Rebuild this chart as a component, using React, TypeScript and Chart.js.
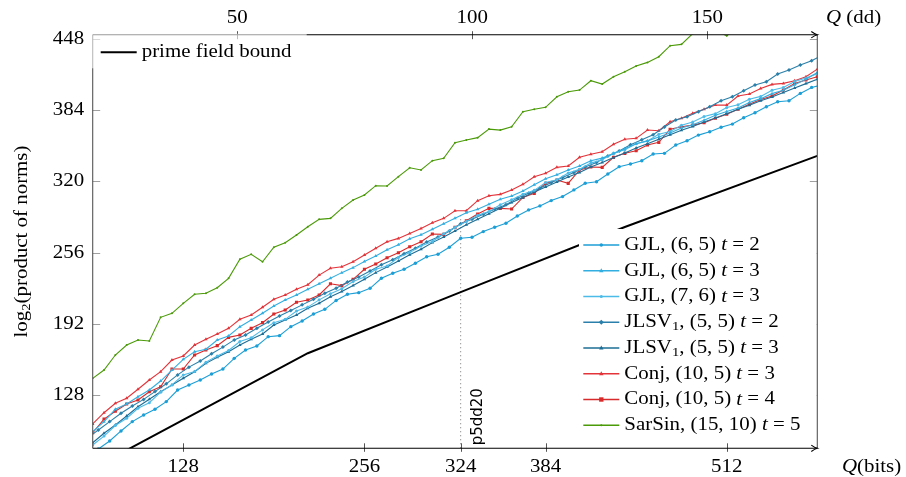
import React, { useEffect, useRef } from "react";
import { Chart, registerables } from "chart.js";
Chart.register(...registerables);

// ---------- data ----------
// x grid (bits) used by most series
const gridA = [64, 72, 80, 88, 96, 104, 112, 120, 128, 136, 144, 152, 160, 168, 176, 184, 192, 200, 208, 216, 224, 232, 240, 248, 256, 264, 272, 280, 288, 296, 304, 312, 320, 328, 336, 344, 352, 360, 368, 376, 384, 392, 400, 408, 416, 424, 432, 440, 448, 456, 464, 472, 480, 488, 496, 504, 512, 520, 528, 536, 544, 552, 560, 568, 576];
// shifted x grid (bits) used by some series
const gridB = [60, 68, 76, 84, 92, 100, 108, 116, 124, 132, 140, 148, 156, 164, 172, 180, 188, 196, 204, 212, 220, 228, 236, 244, 252, 260, 268, 276, 284, 292, 300, 308, 316, 324, 332, 340, 348, 356, 364, 372, 380, 388, 396, 404, 412, 420, 428, 436, 444, 452, 460, 468, 476, 484, 492, 500, 508, 516, 524, 532, 540, 548, 556, 564, 572, 580];

const gjl65t2Vals = [73, 79.4, 86.6, 95.6, 104, 110, 115.1, 122, 132.4, 136.9,
  141.4, 146.8, 151.3, 160.9, 168.4, 172, 180.4, 181.3, 189.4, 194.5,
  200.8, 205, 213, 218.5, 220, 223.9, 232.9, 237.4, 241, 246.4,
  252.3, 254.5, 260.8, 268.9, 269.8, 274.9, 278.8, 282.4, 289, 294.4,
  298, 302.8, 306.4, 312.4, 318.4, 319.8, 326.7, 333.3, 335.7, 338.6,
  344.7, 345.3, 352.8, 356.6, 361.7, 364.7, 368.7, 371.6, 377.3, 381.8,
  387.2, 391.7, 392.6, 399.2, 404.6, 407];
const gjl65t3Vals = [94.9, 103.9, 115.1, 119.8, 126.4, 132.4, 140.5, 150.4, 160, 166.9,
  169.1, 177.4, 181, 189.4, 195.4, 201.4, 208, 213.4, 217.9, 223,
  228, 233, 238, 242.5, 248, 253, 258.5, 263, 268.5, 272,
  277, 282, 287, 291.9, 295, 299.5, 304, 307, 311.5, 317,
  322.5, 326, 330.3, 334, 338.6, 341, 345, 349.5, 354, 356.5,
  360, 363.5, 368, 371, 375, 379.5, 383, 386, 391, 394.5,
  399, 402, 407, 412, 418];
const gjl76t3Vals = [83, 91, 100.5, 107, 116, 121, 130.5, 137, 146, 149,
  157.5, 163, 168, 176, 179.5, 186.5, 193, 196, 203.5, 207,
  213.5, 219, 223.5, 230, 234, 241, 244, 251.5, 256, 262,
  266, 273, 278.5, 284, 289.5, 293, 299, 303.5, 308.5, 312,
  319, 321.5, 327.5, 331, 336.5, 339.5, 345.5, 348.5, 354, 356.5,
  362.5, 365, 370.5, 373.5, 378.5, 381, 386.5, 389, 394, 396.5,
  402, 404.5, 410, 413, 417];
const jlsv55t2Vals = [89, 96.5, 104, 111.5, 118, 124, 131, 138, 146, 153,
  158.5, 165, 171, 177.5, 182, 188, 193.5, 199, 204, 209,
  214, 219.5, 224, 229.5, 234, 239.5, 245, 249.5, 255, 260,
  265.5, 270, 275.5, 282, 286, 290.5, 295, 299, 305, 309.5,
  314, 319, 323.5, 328, 333, 337, 343, 347.5, 353, 357.5,
  362, 369, 375.2, 378.2, 382.7, 387.2, 392.6, 396.2, 401.6, 406.7,
  409.7, 416.6, 420.2, 424.7, 428.6, 434];
const jlsv55t3Vals = [85, 93.5, 101, 109.1, 117.4, 124.1, 130.9, 136.9, 143, 148.9,
  156.4, 161.8, 166.9, 172.9, 178, 182.8, 190.9, 195.4, 199.9, 205.9,
  210.4, 216.3, 221, 226.5, 232, 238, 243, 248.5, 254, 259,
  265, 270, 275.5, 281, 286, 291, 296, 301, 305.5, 310.5,
  315, 319.5, 324, 328, 333, 337, 341.5, 345.5, 350, 354,
  358, 362, 366, 369.5, 373.5, 377, 381, 385, 388.5, 392.5,
  396, 400, 404, 408, 412];
const conjT3Vals = [101.9, 112, 120.5, 125, 133.1, 141.4, 148.9, 159.4, 163, 172.9,
  178, 182.8, 187.9, 196, 199.9, 206.8, 214, 217.9, 223, 227.1,
  235.8, 241.9, 243.3, 247.8, 253.8, 259.9, 265.8, 268.8, 273.3, 277.8,
  282.9, 286.8, 293.7, 293.7, 302.7, 307.2, 308.4, 312.3, 317.4, 324.3,
  327.3, 332.7, 333.9, 341.7, 344.5, 346.7, 353.4, 357.9, 358.8, 366.3,
  365.6, 373.7, 376.8, 381.3, 384.9, 388.7, 388.7, 396.8, 398.6, 403.7,
  407.3, 408.2, 410.6, 414.2, 421];
const conjT4Vals = [94, 106.3, 113.3, 119.8, 123.4, 130.9, 135.4, 151.3, 151.3, 163.9,
  168.4, 172.3, 179.8, 181.9, 187.9, 193, 200.8, 204.4, 211.3, 213.4,
  217.9, 228, 226.3, 232, 241, 245.8, 251.4, 255.9, 261.3, 265.8,
  272.7, 272.4, 278.7, 284.7, 290.7, 295.8, 295.8, 295.2, 305.7, 309.3,
  318.3, 321.3, 318.3, 330.3, 333, 332.7, 341.7, 345.3, 347.6, 352.8,
  355.2, 367, 369.2, 370.7, 372.8, 376.8, 380.4, 384.9, 389.4, 393.8,
  396.8, 402.2, 408.2, 411.2, 414.2];
const sarSinVals = [142.9, 150.4, 163.9, 172.9, 177.4, 176.5, 197.8, 201.4, 210.4, 218.5,
  219.4, 224.4, 232.9, 250, 254.5, 247.8, 260.8, 264.9, 271.8, 279.3,
  285.9, 286.8, 295.8, 303.3, 307.8, 316.2, 315.9, 324.3, 332.3, 330.3,
  338.7, 340.8, 354.8, 357.3, 359.4, 367.1, 366.2, 369.2, 382.7, 384.9,
  386.7, 396.2, 400.7, 402.2, 410.6, 407.6, 414.2, 418.7, 423.8, 427.1,
  432.2, 442.1, 443.3, 453, 457, 456, 451, 459, 463, 466,
  470, 474, 477, 481, 485];
const boundX = [64, 216, 324, 440, 576];
const boundY = [62, 165.5, 220.5, 279, 343];
const markX = [324, 324];
const markY = [80, 292];

const bitsTicks = [128, 256, 324, 384, 512];
const ddTicks = [50, 100, 150];
const yTicks = [128, 192, 256, 320, 384, 448];
const markLabel = "p5dd20";

// ---------- styling ----------
const FONT = '"Liberation Serif", "DejaVu Serif", serif';
const FS = 19;
const SX = 1.1;

type Part = { t: string; i?: boolean; sub?: boolean };
const SERIES: any[] = [
  { name: [{ t: "GJL, (6, 5) " }, { t: "t", i: true }, { t: " = 2" }], xs: gridB, ys: gjl65t2Vals, color: "#1c9fd6", marker: "circle", r: 1.7 },
  { name: [{ t: "GJL, (6, 5) " }, { t: "t", i: true }, { t: " = 3" }], xs: gridA, ys: gjl65t3Vals, color: "#33aee0", marker: "triangle", r: 2 },
  { name: [{ t: "GJL, (7, 6) " }, { t: "t", i: true }, { t: " = 3" }], xs: gridA, ys: gjl76t3Vals, color: "#4dbbe8", marker: "circle", r: 1.5 },
  { name: [{ t: "JLSV" }, { t: "1", sub: true }, { t: ", (5, 5) " }, { t: "t", i: true }, { t: " = 2" }], xs: gridB, ys: jlsv55t2Vals, color: "#2a80aa", marker: "rectRot", r: 2 },
  { name: [{ t: "JLSV" }, { t: "1", sub: true }, { t: ", (5, 5) " }, { t: "t", i: true }, { t: " = 3" }], xs: gridA, ys: jlsv55t3Vals, color: "#1d6e96", marker: "triangle", r: 2 },
  { name: [{ t: "Conj, (10, 5) " }, { t: "t", i: true }, { t: " = 3" }], xs: gridA, ys: conjT3Vals, color: "#e3343a", marker: "triangle", r: 2 },
  { name: [{ t: "Conj, (10, 5) " }, { t: "t", i: true }, { t: " = 4" }], xs: gridA, ys: conjT4Vals, color: "#d82a2a", marker: "rect", r: 2.2 },
  { name: [{ t: "SarSin, (15, 10) " }, { t: "t", i: true }, { t: " = 5" }], xs: gridA, ys: sarSinVals, color: "#4b9a08", marker: "circle", r: 1 },
];

function richWidth(ctx: any, parts: Part[], size: number, sx: number) {
  let w = 0;
  for (const p of parts) {
    const fs = p.sub ? size * 0.7 : size;
    ctx.font = `${p.i ? "italic " : ""}${fs}px ${FONT}`;
    w += ctx.measureText(p.t).width * sx;
  }
  return w;
}
function drawRich(ctx: any, x: number, y: number, parts: Part[], size: number, sx: number) {
  let cx = x;
  ctx.textAlign = "left";
  ctx.textBaseline = "middle";
  for (const p of parts) {
    const fs = p.sub ? size * 0.7 : size;
    ctx.font = `${p.i ? "italic " : ""}${fs}px ${FONT}`;
    const w = ctx.measureText(p.t).width * sx;
    ctx.save();
    ctx.translate(cx, y + (p.sub ? size * 0.25 : 0));
    ctx.scale(sx, 1);
    ctx.fillText(p.t, 0, 0);
    ctx.restore();
    cx += w;
  }
  return cx - x;
}
function drawMarker(ctx: any, kind: string, x: number, y: number, r: number, color: string) {
  ctx.save();
  ctx.fillStyle = color;
  ctx.beginPath();
  if (kind === "circle") ctx.arc(x, y, r, 0, Math.PI * 2);
  else if (kind === "rect") ctx.rect(x - r, y - r, 2 * r, 2 * r);
  else if (kind === "rectRot") { ctx.moveTo(x, y - r * 1.3); ctx.lineTo(x + r * 1.3, y); ctx.lineTo(x, y + r * 1.3); ctx.lineTo(x - r * 1.3, y); ctx.closePath(); }
  else { ctx.moveTo(x, y - r * 1.2); ctx.lineTo(x + r * 1.1, y + r * 0.8); ctx.lineTo(x - r * 1.1, y + r * 0.8); ctx.closePath(); }
  ctx.fill();
  ctx.restore();
}

const decorPlugin = {
  id: "decor",
  afterDraw(chart: any) {
    const ctx = chart.ctx;
    const xs = chart.scales.x, x2 = chart.scales.x2, ys = chart.scales.y;
    const { left, right, top, bottom } = chart.chartArea;
    ctx.save();

    // y ticks (both sides, inside)
    ctx.strokeStyle = "#a0a0a0";
    ctx.lineWidth = 1;
    for (const v of yTicks) {
      const py = Math.round(ys.getPixelForValue(v)) + 0.5;
      ctx.beginPath();
      ctx.moveTo(left, py); ctx.lineTo(left + 7.5, py);
      ctx.moveTo(right - 7.5, py); ctx.lineTo(right, py);
      ctx.stroke();
    }

    // bottom-right legend background
    ctx.fillStyle = "#ffffff";
    ctx.fillRect(579, 229, right - 0.6 - 579, bottom - 0.6 - 229);

    // x ticks
    ctx.strokeStyle = "#555";
    for (const v of bitsTicks) {
      const px = Math.round(xs.getPixelForValue(v)) + 0.5;
      ctx.beginPath(); ctx.moveTo(px, bottom - 5); ctx.lineTo(px, bottom + 3.5); ctx.stroke();
    }
    for (const v of ddTicks) {
      const px = Math.round(x2.getPixelForValue(v)) + 0.5;
      ctx.beginPath(); ctx.moveTo(px, top - 3.5); ctx.lineTo(px, top + 4.5); ctx.stroke();
    }

    // frame
    ctx.lineWidth = 1.1;
    ctx.strokeStyle = "#555";
    ctx.beginPath(); ctx.moveTo(left, top); ctx.lineTo(left, bottom); ctx.stroke();
    ctx.beginPath(); ctx.moveTo(right, top); ctx.lineTo(right, bottom); ctx.stroke();
    ctx.strokeStyle = "#000";
    ctx.beginPath(); ctx.moveTo(left, bottom); ctx.lineTo(right, bottom); ctx.stroke();
    ctx.beginPath(); ctx.moveTo(left, top); ctx.lineTo(right, top); ctx.stroke();
    // arrow heads
    for (const ay of [top, bottom]) {
      ctx.beginPath();
      ctx.moveTo(right - 6, ay - 3.2);
      ctx.quadraticCurveTo(right - 2.5, ay - 0.6, right, ay);
      ctx.quadraticCurveTo(right - 2.5, ay + 0.6, right - 6, ay + 3.2);
      ctx.stroke();
    }

    // top-left legend (semi-opaque)
    ctx.fillStyle = "rgba(255,255,255,0.6)";
    ctx.fillRect(left - 1, top - 1, 306.7 - left + 1, 68.3 - top + 1);
    ctx.strokeStyle = "#000";
    ctx.lineWidth = 2;
    ctx.beginPath(); ctx.moveTo(100.7, 52.3); ctx.lineTo(136.7, 52.3); ctx.stroke();
    ctx.fillStyle = "#000";
    drawRich(ctx, 141.7, 52.3, [{ t: "prime field bound" }], FS, SX);

    // bottom-right legend entries
    SERIES.forEach((s: any, i: number) => {
      const cy = 245 + i * 25.75;
      ctx.strokeStyle = s.color;
      ctx.lineWidth = 1.4;
      ctx.beginPath(); ctx.moveTo(583.3, cy); ctx.lineTo(619.3, cy); ctx.stroke();
      drawMarker(ctx, s.marker, 601.3, cy, s.r, s.color);
      ctx.fillStyle = "#000";
      drawRich(ctx, 624.3, cy, s.name, FS, SX);
    });

    // tick labels
    ctx.fillStyle = "#000";
    for (const v of yTicks) {
      const py = ys.getPixelForValue(v);
      const w = richWidth(ctx, [{ t: String(v) }], FS, SX);
      drawRich(ctx, left - 8.5 - w, py, [{ t: String(v) }], FS, SX);
    }
    for (const v of bitsTicks) {
      const px = xs.getPixelForValue(v);
      const w = richWidth(ctx, [{ t: String(v) }], FS, SX);
      drawRich(ctx, px - w / 2, 467, [{ t: String(v) }], FS, SX);
    }
    for (const v of ddTicks) {
      const px = x2.getPixelForValue(v);
      const w = richWidth(ctx, [{ t: String(v) }], FS, SX);
      drawRich(ctx, px - w / 2, 18, [{ t: String(v) }], FS, SX);
    }

    // axis titles
    drawRich(ctx, 842, 467, [{ t: "Q", i: true }, { t: "(bits)" }], FS, SX);
    drawRich(ctx, 826, 18, [{ t: "Q", i: true }, { t: " (dd)" }], FS, SX);
    const yTitle: Part[] = [{ t: "log" }, { t: "2", sub: true }, { t: "(product of norms)" }];
    ctx.save();
    ctx.translate(22, (top + bottom) / 2);
    ctx.rotate(-Math.PI / 2);
    const tw = richWidth(ctx, yTitle, FS, SX);
    drawRich(ctx, -tw / 2, 0, yTitle, FS, SX);
    ctx.restore();

    // mark label
    ctx.save();
    ctx.translate(482, bottom - 3);
    ctx.rotate(-Math.PI / 2);
    ctx.font = '15px "DejaVu Sans", sans-serif';
    ctx.textAlign = "left";
    ctx.textBaseline = "alphabetic";
    ctx.fillStyle = "#000";
    ctx.fillText(markLabel, 0, 0);
    ctx.restore();

    ctx.restore();
  },
};

export default function App() {
  const ref = useRef<HTMLCanvasElement | null>(null);
  useEffect(() => {
    document.body.style.margin = "0";
    const canvas = ref.current!;
    const pts = (xsArr: number[], ysArr: number[]) => xsArr.map((x, i) => ({ x, y: ysArr[i] }));
    const datasets: any[] = SERIES.map((s: any) => ({
      label: s.name.map((p: Part) => p.t).join(""),
      data: pts(s.xs, s.ys),
      borderColor: s.color,
      backgroundColor: s.color,
      borderWidth: 1.1,
      pointRadius: s.r,
      pointStyle: s.marker,
      pointBorderWidth: 0,
      pointBackgroundColor: s.color,
      tension: 0,
    }));
    datasets.push({
      label: "prime field bound",
      data: pts(boundX, boundY),
      borderColor: "#000",
      borderWidth: 2,
      pointRadius: 0,
      tension: 0,
    });
    datasets.push({
      label: markLabel,
      data: pts(markX, markY),
      borderColor: "#8a8a8a",
      borderWidth: 1,
      borderDash: [1.2, 2.8],
      pointRadius: 0,
    });
    const hidden = {
      grid: { display: false, drawTicks: false },
      border: { display: false },
      ticks: { display: false },
    };
    const chart = new Chart(canvas, {
      type: "line",
      data: { datasets },
      options: {
        responsive: false,
        animation: false,
        parsing: true as any,
        layout: { padding: { left: 0, right: 906 - 817.3, top: 0, bottom: 0 } },
        plugins: { legend: { display: false }, tooltip: { enabled: false } },
        scales: {
          x: { type: "linear", position: "bottom", min: 64, max: 576, ...hidden, afterFit: (s: any) => { s.height = 477 - 448.3; } },
          x2: { type: "linear", position: "top", min: 64 / Math.log2(10), max: 576 / Math.log2(10), ...hidden, afterFit: (s: any) => { s.height = 34.7; } },
          y: { type: "linear", position: "left", min: 80, max: 452, ...hidden, afterFit: (s: any) => { s.width = 92.7; } },
        },
      } as any,
      plugins: [decorPlugin],
    });
    return () => chart.destroy();
  }, []);
  return (
    <div style={{ width: 906, height: 477, background: "#fff" }}>
      <canvas ref={ref} width={906} height={477} style={{ display: "block", width: 906, height: 477 }} />
    </div>
  );
}
